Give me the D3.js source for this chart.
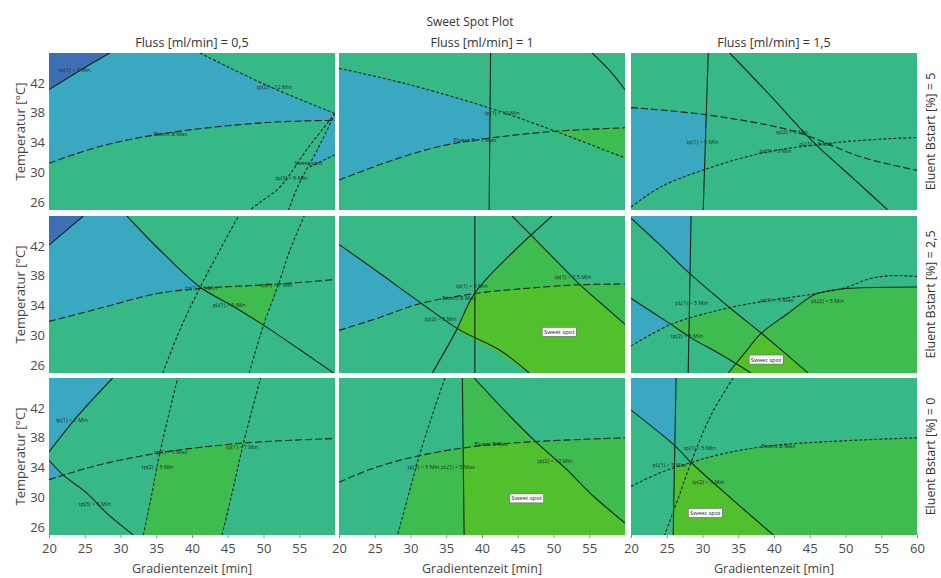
<!DOCTYPE html>
<html>
<head>
<meta charset="utf-8">
<script src="https://cdn.jsdelivr.net/npm/d3@7"></script>
<style>
  body { margin: 0; background: #fff; }
  svg { display: block; }
  text { font-family: 'Open Sans', 'Noto Sans', sans-serif; }
</style>
</head>
<body>
<svg id="chart"></svg>
<script>
// facet labels
const flussLevels = ['Fluss [ml/min] = 0,5', 'Fluss [ml/min] = 1', 'Fluss [ml/min] = 1,5'];
const bstartLevels = ['Eluent Bstart [%] = 5', 'Eluent Bstart [%] = 2,5', 'Eluent Bstart [%] = 0'];
const xTicks = [20, 25, 30, 35, 40, 45, 50, 55, 60];
const yTicks = [26, 30, 34, 38, 42];

// coloured regions: [row, col, fill, [[gradient time, temperature], ...]]
const regions = [
  [0, 0, 'teal', [[20, 46], [41.1, 46], [50.4, 41.7], [60, 37.9], [60, 37.0], [50.4, 36.7], [36.5, 35.3], [27.1, 33.5], [20, 31.25]]],
  [0, 0, 'darkblue', [[20, 46], [28.5, 46], [20, 41.1]]],
  [0, 0, 'teal', [[59.5, 37.0], [60, 37.0], [60, 32.4], [56.3, 30.7]]],
  [1, 0, 'teal', [[20, 46], [30.9, 46], [35.5, 41.45], [41.1, 36.4], [35, 35.6], [27.1, 33.65], [20, 31.9]]],
  [1, 0, 'darkblue', [[20, 46], [24.8, 46], [20, 42.1]]],
  [1, 0, 'green', [[41.1, 36.4], [46.5, 36.7], [52.1, 36.9], [50, 31.4], [45.8, 33.9]]],
  [2, 0, 'teal', [[20, 46], [28.9, 46], [23.9, 40.8], [20, 36.1]]],
  [2, 0, 'teal', [[20, 35.0], [22, 33.0], [20, 32.4]]],
  [2, 0, 'green', [[33.2, 25], [34.3, 30.5], [35.5, 36.0], [41, 36.8], [47.2, 37.3], [45.7, 31], [44.2, 25]]],
  [0, 1, 'teal', [[20, 43.95], [29.3, 41.9], [41.2, 38.6], [41.0, 34.6], [34, 33.5], [27, 31.5], [20, 29.0]]],
  [0, 1, 'green', [[49.8, 35.6], [55, 35.85], [60, 36.0], [60, 31.96]]],
  [1, 1, 'teal', [[20, 42.2], [25.6, 38.4], [31.4, 34.4], [25.6, 32.4], [20, 30.7]]],
  [1, 1, 'green', [[39, 35.7], [44.2, 41.1], [46.8, 43.5], [50.3, 40.1], [53.6, 36.9], [46, 36.3]]],
  [1, 1, 'green', [[53.6, 36.9], [60, 36.9], [60, 31.5], [56.8, 34.2]]],
  [1, 1, 'sweet', [[39, 35.7], [46, 36.3], [53.6, 36.9], [56.8, 34.2], [60, 31.5], [60, 25], [46.6, 25], [41.5, 28.2], [36.4, 30.7], [37.7, 33.2]]],
  [2, 1, 'green', [[37.25, 46], [38.9, 46], [43.3, 41.5], [47.5, 37.5], [42, 37.1], [37.35, 36.7]]],
  [2, 1, 'green', [[31.2, 35.6], [34, 36.2], [37.35, 36.7], [37.5, 25], [28.2, 25], [29.7, 30.3]]],
  [2, 1, 'sweet', [[37.35, 36.7], [42, 37.1], [47.5, 37.5], [51.5, 33.8], [55.4, 30.35], [60, 26.6], [60, 25], [37.5, 25]]],
  [2, 1, 'green', [[47.5, 37.5], [53, 37.8], [60, 38.0], [60, 26.6], [55.4, 30.35], [51.5, 33.8]]],
  [0, 2, 'teal', [[20, 38.7], [30.8, 37.7], [30.1, 30.35], [24.2, 28.1], [20, 25.4]]],
  [1, 2, 'teal', [[20, 46], [28.4, 46], [28.4, 38.15], [24.2, 42], [20, 45.7]]],
  [1, 2, 'teal', [[20, 35.0], [25.6, 31.5], [20, 28.6]]],
  [1, 2, 'green', [[25.6, 31.5], [29.5, 32.6], [33.6, 33.7], [36, 32.2], [38.2, 30.35], [36, 27.8], [34.6, 26.3], [30, 28.9]]],
  [1, 2, 'sweet', [[38.2, 30.3], [41.5, 27.7], [44.75, 25], [33.6, 25], [36, 27.8]]],
  [1, 2, 'green', [[38.2, 30.3], [42, 33.2], [45.7, 35.5], [49, 36.2], [52.2, 36.4], [60, 36.5], [60, 25], [44.75, 25], [41.5, 27.7]]],
  [2, 2, 'teal', [[20, 46], [26.3, 46], [26.3, 36.8], [20, 41.7]]],
  [2, 2, 'green', [[28.4, 34.7], [33, 35.9], [39.2, 36.9], [47.6, 37.5], [60, 38.0], [60, 25], [39.9, 25], [34, 29.9]]],
  [2, 2, 'sweet', [[26.1, 34.0], [28.4, 34.7], [34, 29.9], [39.9, 25], [25.9, 25]]]
];

// contour lines: [row, col, style, points]
const contours = [
  [0, 0, 'solid', [[20, 41.1], [24.2, 43.6], [28.5, 46]]],
  [0, 0, 'short', [[41.1, 46], [50.4, 41.7], [60, 37.9]]],
  [0, 0, 'long', [[20, 31.25], [27.1, 33.5], [36.5, 35.3], [50.4, 36.7], [60, 37.0]]],
  [0, 0, 'short', [[60, 37.9], [56, 33], [53.5, 29.5], [51.9, 27.7], [49.9, 26.3], [48.1, 25]]],
  [0, 0, 'short', [[60, 37.9], [57.5, 33], [55.5, 29.5], [54.6, 27.7], [53.5, 25]]],
  [0, 0, 'short', [[60, 32.4], [56.3, 30.7]]],
  [1, 0, 'solid', [[20, 42.1], [24.8, 46]]],
  [1, 0, 'solid', [[30.9, 46], [35.5, 41.45], [41.1, 36.5], [45.8, 33.9], [50, 31.4], [55.1, 28.1], [59.8, 25]]],
  [1, 0, 'long', [[20, 31.9], [27.1, 33.65], [35, 35.6], [41.1, 36.3], [52.1, 36.9], [60, 37.5]]],
  [1, 0, 'short', [[35.9, 25], [38.3, 30.75], [41.1, 36.4], [43.9, 41.45], [46.5, 46]]],
  [1, 0, 'short', [[48, 25], [50, 31.4], [52.1, 36.9], [53.7, 41.45], [55.7, 46]]],
  [2, 0, 'solid', [[20, 36.1], [23.9, 40.8], [28.9, 46]]],
  [2, 0, 'solid', [[20, 35.0], [22, 33.0], [25.3, 30.6], [28.1, 27.9], [31.8, 25]]],
  [2, 0, 'long', [[20, 32.4], [22, 33.0], [27.1, 34.4], [35.5, 36.0], [47.2, 37.3], [60, 37.9]]],
  [2, 0, 'short', [[33.2, 25], [34.4, 30.6], [35.5, 36.0], [38.0, 46]]],
  [2, 0, 'short', [[44.2, 25], [45.7, 31], [47.2, 37.3], [49.6, 46]]],
  [0, 1, 'solid', [[41.2, 46], [41.0, 25]]],
  [0, 1, 'short', [[20, 43.95], [29.3, 41.9], [41.2, 38.6], [49.8, 35.7], [60, 31.96]]],
  [0, 1, 'long', [[20, 29.0], [27, 31.5], [34, 33.5], [41.0, 34.6], [49.8, 35.5], [60, 36.0]]],
  [0, 1, 'solid', [[55.4, 46], [57.8, 43.7], [60, 41.1]]],
  [1, 1, 'solid', [[39.0, 46], [39.0, 25]]],
  [1, 1, 'solid', [[20, 42.2], [25.6, 38.4], [31.4, 34.4], [36.8, 30.8], [42.4, 28.1], [46.6, 25]]],
  [1, 1, 'long', [[20, 30.7], [25.6, 32.4], [31.4, 34.3], [39.6, 35.7], [46, 36.3], [53.6, 36.8], [60, 36.9]]],
  [1, 1, 'solid', [[33.05, 25], [36.3, 30.5], [39, 35.7], [44.2, 41.05], [49.8, 46]]],
  [1, 1, 'solid', [[44.2, 46], [46.8, 43.5], [50.3, 40.1], [53.6, 36.9], [56.8, 34.2], [60, 31.5]]],
  [2, 1, 'solid', [[37.25, 46], [37.5, 25]]],
  [2, 1, 'short', [[34.8, 46], [33.05, 41.05], [31.2, 35.5], [29.7, 30.3], [28.2, 25]]],
  [2, 1, 'long', [[20, 32.05], [25, 34], [31.2, 35.6], [38.6, 36.8], [47.5, 37.5], [60, 38.0]]],
  [2, 1, 'solid', [[38.9, 46], [43.3, 41.5], [47.5, 37.5], [51.7, 33.9], [55.4, 30.35], [60, 26.6]]],
  [0, 2, 'solid', [[30.8, 46], [30.1, 25]]],
  [0, 2, 'long', [[20, 38.7], [30.8, 37.7], [42.9, 35.5], [52.2, 32.1], [60, 30.3]]],
  [0, 2, 'short', [[20, 25.4], [24.2, 28.1], [30.1, 30.35], [38.2, 32.6], [45.7, 33.7], [52, 34.3], [60, 34.7]]],
  [0, 2, 'solid', [[33.8, 46], [39.2, 40.6], [45.7, 33.9], [51, 29.3], [55.9, 25]]],
  [1, 2, 'solid', [[28.4, 46], [28.0, 25]]],
  [1, 2, 'solid', [[20, 45.7], [24.2, 42], [28.4, 38.15], [33.6, 33.9], [38.2, 30.35], [41.5, 27.7], [44.75, 25]]],
  [1, 2, 'solid', [[20, 35.0], [25.6, 31.5], [28.4, 29.7], [32.5, 27.5], [36.8, 25]]],
  [1, 2, 'short', [[20, 28.6], [25.6, 31.5], [33.6, 33.7], [40, 34.8], [45.7, 35.6], [50, 36.4], [53, 37.5], [56, 38.0], [60, 37.9]]],
  [1, 2, 'solid', [[33.6, 25], [36, 27.8], [38.2, 30.3], [42, 33.0], [45.7, 35.5], [49, 36.2], [52.2, 36.4], [60, 36.5]]],
  [2, 2, 'solid', [[26.3, 46], [25.9, 25]]],
  [2, 2, 'solid', [[20, 41.7], [26.3, 36.8], [28.4, 34.7], [34, 29.9], [39.9, 25]]],
  [2, 2, 'short', [[34.3, 46], [31.2, 41.05], [28.4, 34.7], [26.6, 29.9], [24.7, 25]]],
  [2, 2, 'short', [[20, 31.5], [24, 33.3], [28.4, 34.7], [33, 35.9], [39.2, 36.9], [47.6, 37.5], [60, 38.0]]]
];

// small contour annotations: [row, col, x, y, text]
const contourLabels = [
  [0, 0, 23.6, 43.7, 'tp(1) > 7 Min'],
  [0, 0, 51.5, 41.4, 'tp(2) > 12 Min'],
  [0, 0, 37, 35.2, 'Eluent B Max'],
  [0, 0, 56.3, 31.3, 'Sweet spot'],
  [0, 0, 53.9, 29.3, 'tp(3) > 9 Min'],
  [1, 0, 41.3, 36.3, 'tp(1) > 5 Min'],
  [1, 0, 51.8, 36.7, 'tp(1) > 7 Min'],
  [1, 0, 45.2, 34.1, 'pL(1) > 5 Min'],
  [2, 0, 23.2, 40.4, 'tp(1) > 7 Min'],
  [2, 0, 37, 36.1, 'tp(1) > 5 Max'],
  [2, 0, 35.2, 34.1, 'tp(2) > 5 Min'],
  [2, 0, 47, 36.7, 'tp(1) > 7 Min'],
  [2, 0, 26.4, 29.1, 'tp(3) > 5 Min'],
  [0, 1, 42.8, 37.9, 'tp(1) > 12 Min'],
  [0, 1, 39, 34.3, 'Eluent B > 1 Max'],
  [0, 2, 30, 34.1, 'tp(1) > 5 Min'],
  [0, 2, 42.5, 35.4, 'tp(2) > 5 Min'],
  [0, 2, 45.9, 33.8, 'pL(1) > 5 Max'],
  [0, 2, 40.2, 32.9, 'tp(3) > 5 Min'],
  [1, 1, 38.6, 36.6, 'tp(1) > 5 Min'],
  [1, 1, 36.8, 35.0, 'Eluent B Max'],
  [1, 1, 34.2, 32.2, 'tp(2) > 5 Min'],
  [1, 1, 52.7, 37.8, 'tp(1) > 7,5 Min'],
  [1, 2, 28.5, 34.4, 'pL(1) > 5 Min'],
  [1, 2, 40.4, 34.8, 'tp(1) > 5 Max'],
  [1, 2, 47.5, 34.6, 'pL(2) > 5 Min'],
  [1, 2, 27.8, 30.0, 'tp(2) > 5 Min'],
  [2, 1, 41.3, 37.1, 'Eluent B Max'],
  [2, 1, 34.3, 34.1, 'tp(1) > 5 Min  pL(1) > 5 Max'],
  [2, 1, 50.2, 34.9, 'tp(2) > 12 Min'],
  [2, 2, 29.6, 36.6, 'tp(1) > 5 Min'],
  [2, 2, 25.4, 34.4, 'pL(1) > 5 Max'],
  [2, 2, 30.8, 32.1, 'tp(2) > 5 Min'],
  [2, 2, 40.6, 36.9, 'Eluent B Max']
];

// "Sweet spot" boxes: [row, col, x, y]
const sweetSpots = [
  [1, 1, 50.8, 30.5],
  [1, 2, 38.9, 26.8],
  [2, 1, 46.25, 29.9],
  [2, 2, 30.4, 27.95]
];

const width = 941;
const height = 578;
const colLeft = [49, 339, 631];
const rowTop = [53, 216, 378];
const panelW = 286;
const panelH = 157;

const fills = {
  base: '#36b887',
  darkblue: '#3d6fb4',
  teal: '#3aa8c0',
  green: '#3fbc4f',
  sweet: '#52c02d'
};
const dashes = { solid: null, short: '3,2', long: '7,3' };

const x = d3.scaleLinear().domain([20, 60]).range([0, panelW]);
const y = d3.scaleLinear().domain([25, 46]).range([panelH, 0]);

const area = d3.line().x(d => x(d[0])).y(d => y(d[1]));
const curve = d3.line()
  .x(d => x(d[0]))
  .y(d => y(d[1]))
  .curve(d3.curveCatmullRom.alpha(0.5));

const svg = d3.select('#chart')
  .attr('width', width)
  .attr('height', height);

svg.append('rect')
  .attr('width', width)
  .attr('height', height)
  .attr('fill', '#fff');

svg.append('text')
  .attr('x', 470)
  .attr('y', 26)
  .attr('text-anchor', 'middle')
  .attr('font-size', 12)
  .attr('fill', '#333')
  .text('Sweet Spot Plot');

flussLevels.forEach((label, c) => {
  svg.append('text')
    .attr('x', colLeft[c] + panelW / 2)
    .attr('y', 47)
    .attr('text-anchor', 'middle')
    .attr('font-size', 12.5)
    .attr('fill', '#333')
    .text(label);
});

bstartLevels.forEach((label, r) => {
  svg.append('text')
    .attr('transform', `translate(935,${rowTop[r] + panelH / 2}) rotate(-90)`)
    .attr('text-anchor', 'middle')
    .attr('font-size', 12.5)
    .attr('fill', '#333')
    .text(label);

  svg.append('text')
    .attr('transform', `translate(25,${rowTop[r] + panelH / 2}) rotate(-90)`)
    .attr('text-anchor', 'middle')
    .attr('font-size', 13)
    .attr('fill', '#444')
    .text('Temperatur [°C]');
});

for (let r = 0; r < 3; r++) {
  for (let c = 0; c < 3; c++) {
    const id = `clip-${r}-${c}`;
    const g = svg.append('g')
      .attr('transform', `translate(${colLeft[c]},${rowTop[r]})`);

    g.append('clipPath')
      .attr('id', id)
      .append('rect')
      .attr('width', panelW)
      .attr('height', panelH);

    const body = g.append('g').attr('clip-path', `url(#${id})`);

    body.append('rect')
      .attr('width', panelW)
      .attr('height', panelH)
      .attr('fill', fills.base);

    body.selectAll('path.region')
      .data(regions.filter(d => d[0] === r && d[1] === c))
      .enter()
      .append('path')
      .attr('class', 'region')
      .attr('d', d => area(d[3]) + 'Z')
      .attr('fill', d => fills[d[2]]);

    body.selectAll('path.contour')
      .data(contours.filter(d => d[0] === r && d[1] === c))
      .enter()
      .append('path')
      .attr('class', 'contour')
      .attr('d', d => curve(d[3]))
      .attr('fill', 'none')
      .attr('stroke', '#14241c')
      .attr('stroke-width', 1.1)
      .attr('stroke-dasharray', d => dashes[d[2]]);

    body.selectAll('text.note')
      .data(contourLabels.filter(d => d[0] === r && d[1] === c))
      .enter()
      .append('text')
      .attr('class', 'note')
      .attr('x', d => x(d[2]))
      .attr('y', d => y(d[3]))
      .attr('dy', '0.35em')
      .attr('text-anchor', 'middle')
      .attr('font-size', 5.5)
      .attr('fill', '#1b2e22')
      .text(d => d[4]);

    const spot = body.selectAll('g.spot')
      .data(sweetSpots.filter(d => d[0] === r && d[1] === c))
      .enter()
      .append('g')
      .attr('class', 'spot')
      .attr('transform', d => `translate(${x(d[2])},${y(d[3])})`);

    spot.append('rect')
      .attr('x', -17)
      .attr('y', -4.5)
      .attr('width', 34)
      .attr('height', 9)
      .attr('fill', '#fff')
      .attr('stroke', '#555')
      .attr('stroke-width', 0.5);

    spot.append('text')
      .attr('text-anchor', 'middle')
      .attr('dy', '0.35em')
      .attr('font-size', 6)
      .attr('fill', '#222')
      .text('Sweet spot');

    if (r === 2) {
      const ticks = c === 2 ? xTicks : xTicks.slice(0, -1);
      const ax = g.append('g')
        .attr('transform', `translate(0,${panelH})`)
        .call(d3.axisBottom(x).tickValues(ticks).tickSize(3).tickPadding(6));
      ax.select('.domain').remove();
      ax.selectAll('line').attr('stroke', '#888');
      ax.selectAll('text')
        .attr('font-size', 13)
        .attr('fill', '#4a4a4a')
        .attr('font-family', "'Open Sans', sans-serif");

      g.append('text')
        .attr('x', panelW / 2)
        .attr('y', panelH + 38)
        .attr('text-anchor', 'middle')
        .attr('font-size', 12.5)
        .attr('fill', '#444')
        .text('Gradientenzeit [min]');
    }

    if (c === 0) {
      const ay = g.append('g')
        .call(d3.axisLeft(y).tickValues(yTicks).tickSize(0).tickPadding(4));
      ay.select('.domain').remove();
      ay.selectAll('text')
        .attr('font-size', 13)
        .attr('fill', '#4a4a4a')
        .attr('font-family', "'Open Sans', sans-serif");
    }
  }
}
</script>
</body>
</html>
